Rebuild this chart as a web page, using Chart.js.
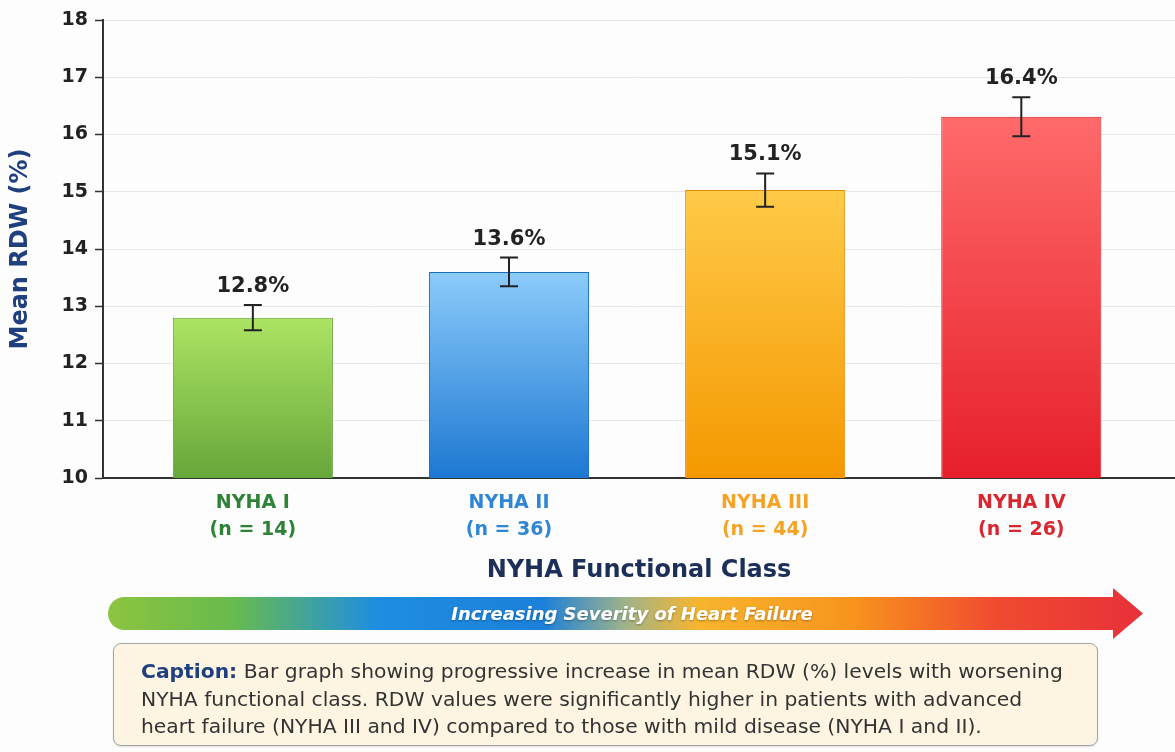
<!DOCTYPE html>
<html>
<head>
<meta charset="utf-8">
<script src="https://cdn.jsdelivr.net/npm/chart.js@4.4.1/dist/chart.umd.min.js"></script>
<style>
  html, body { margin: 0; padding: 0; background: #fdfdfd; }
  #wrap { position: relative; width: 1175px; height: 752px; overflow: hidden; font-family: 'DejaVu Sans', sans-serif; }
  #chart { position: absolute; left: 0; top: 0; }
  #arrow { position: absolute; left: 0; top: 0; pointer-events: none; }
  #caption {
    position: absolute; left: 113px; top: 643px; width: 985px; height: 103px;
    box-sizing: border-box; background: #fdf5e2; border: 1.5px solid #a3a3a3; border-radius: 8px;
    padding: 14px 0 0 27px; font-size: 20.3px; line-height: 27.5px; color: #333; white-space: nowrap;
    box-shadow: 0 1px 2px rgba(0,0,0,.12);
  }
  #caption b { color: #1f3f7f; }
</style>
</head>
<body>
<div id="wrap">
  <canvas id="chart" width="1175" height="592"></canvas>
  <svg id="arrow" width="1175" height="752">
    <defs>
      <linearGradient id="sev" x1="108" y1="0" x2="1143" y2="0" gradientUnits="userSpaceOnUse">
        <stop offset="0" stop-color="#8cc43f"/>
        <stop offset="0.12" stop-color="#68bb4e"/>
        <stop offset="0.26" stop-color="#1e8ee0"/>
        <stop offset="0.42" stop-color="#1c80da"/>
        <stop offset="0.50" stop-color="#9fb38a"/>
        <stop offset="0.57" stop-color="#f7b52e"/>
        <stop offset="0.72" stop-color="#f8941d"/>
        <stop offset="0.86" stop-color="#f04a30"/>
        <stop offset="1" stop-color="#e8303a"/>
      </linearGradient>
      <filter id="sh" x="-5%" y="-30%" width="110%" height="160%">
        <feDropShadow dx="0" dy="1" stdDeviation="1" flood-color="#000" flood-opacity="0.35"/>
      </filter>
    </defs>
    <path d="M124.5 597 H1113 V588 L1143 613.5 L1113 639 V630 H124.5 A16.5 16.5 0 0 1 124.5 597 Z" fill="url(#sev)"/>
    <text x="632" y="619.5" text-anchor="middle" fill="#ffffff" filter="url(#sh)"
      font-family="DejaVu Sans" font-weight="bold" font-style="italic" font-size="18">Increasing Severity of Heart Failure</text>
  </svg>
  <div id="caption">
    <b>Caption:</b> Bar graph showing progressive increase in mean RDW (%) levels with worsening<br>
    NYHA functional class. RDW values were significantly higher in patients with advanced<br>
    heart failure (NYHA III and IV) compared to those with mild disease (NYHA I and II).
  </div>
</div>
<script>
const classNames = ['NYHA I', 'NYHA II', 'NYHA III', 'NYHA IV'];
const sampleSizes = ['(n = 14)', '(n = 36)', '(n = 44)', '(n = 26)'];
const meanRdw = [12.8, 13.6, 15.03, 16.31];
const sdRdw = [0.22, 0.25, 0.29, 0.34];
const valueLabels = ['12.8%', '13.6%', '15.1%', '16.4%'];

const labelColors = ['#2e8236', '#2f86d6', '#f4a324', '#d9262f'];
const barTop = ['#ace463', '#8bcbfa', '#ffca48', '#ff6a6a'];
const barBottom = ['#67a63a', '#1d78d2', '#f49800', '#e61f2a'];
const barEdge = ['#5e9a33', '#1a6ec0', '#e08a00', '#cf1c26'];

const FONT = "'DejaVu Sans', sans-serif";

function barFill(c) {
  const chart = c.chart;
  const area = chart.chartArea;
  const i = c.dataIndex;
  if (!area || i == null) return barBottom[i || 0];
  const top = chart.scales.y.getPixelForValue(meanRdw[i]);
  const g = chart.ctx.createLinearGradient(0, top, 0, area.bottom);
  g.addColorStop(0, barTop[i]);
  g.addColorStop(1, barBottom[i]);
  return g;
}

// error bars + value labels drawn on top of the bars
const errorBars = {
  id: 'errorBars',
  afterDatasetsDraw(chart) {
    const { ctx, scales: { x, y } } = chart;
    ctx.save();
    ctx.strokeStyle = '#222';
    ctx.lineWidth = 2;
    meanRdw.forEach((m, i) => {
      const px = x.getPixelForValue(i);
      const hi = y.getPixelForValue(m + sdRdw[i]);
      const lo = y.getPixelForValue(m - sdRdw[i]);
      ctx.beginPath();
      ctx.moveTo(px, hi); ctx.lineTo(px, lo);
      ctx.moveTo(px - 9, hi); ctx.lineTo(px + 9, hi);
      ctx.moveTo(px - 9, lo); ctx.lineTo(px + 9, lo);
      ctx.stroke();

      ctx.fillStyle = '#222';
      ctx.font = `bold 21px ${FONT}`;
      ctx.textAlign = 'center';
      ctx.textBaseline = 'alphabetic';
      ctx.fillText(valueLabels[i], px, hi - 13);
    });
    ctx.restore();
  }
};

new Chart(document.getElementById('chart'), {
  type: 'bar',
  data: {
    datasets: [{
      data: meanRdw.map((v, i) => ({ x: i, y: v })),
      backgroundColor: barFill,
      borderColor: barEdge,
      borderWidth: 1,
      barPercentage: 0.625,
      categoryPercentage: 1
    }]
  },
  options: {
    responsive: false,
    animation: false,
    devicePixelRatio: 1,
    layout: { padding: { top: 20, left: 0, right: 0, bottom: 0 } },
    plugins: { legend: { display: false }, tooltip: { enabled: false } },
    scales: {
      x: {
        type: 'linear',
        offset: false,
        min: -0.585,
        max: 3.6,
        afterBuildTicks: (s) => { s.ticks = classNames.map((_, i) => ({ value: i })); },
        afterFit: (s) => { s.height = 114; },
        grid: { display: false, drawTicks: false, offset: false },
        border: { display: true, color: '#333', width: 2 },
        ticks: {
          autoSkip: false,
          maxRotation: 0,
          padding: 12,
          font: { family: FONT, size: 19, weight: 'bold', lineHeight: 1.42 },
          color: (c) => labelColors[c.index] || '#333',
          callback: (v) => [classNames[v], sampleSizes[v]]
        },
        title: {
          display: true,
          text: 'NYHA Functional Class',
          color: '#1c2f58',
          font: { family: FONT, size: 24, weight: 'bold' },
          padding: { top: 0, bottom: 7 }
        }
      },
      y: {
        min: 10,
        max: 18,
        afterFit: (s) => { s.width = 103; },
        grid: { color: '#e6e6e6', lineWidth: 1, tickLength: 8, tickColor: '#333', tickWidth: 1.5 },
        border: { display: true, color: '#333', width: 2 },
        ticks: {
          stepSize: 1,
          padding: 7,
          color: '#222',
          font: { family: FONT, size: 19, weight: 'bold' }
        },
        title: {
          display: true,
          text: 'Mean RDW (%)',
          color: '#1f3f7f',
          font: { family: FONT, size: 24, weight: 'bold' },
          padding: { top: 6, bottom: 0 }
        }
      }
    }
  },
  plugins: [errorBars]
});
</script>
</body>
</html>
